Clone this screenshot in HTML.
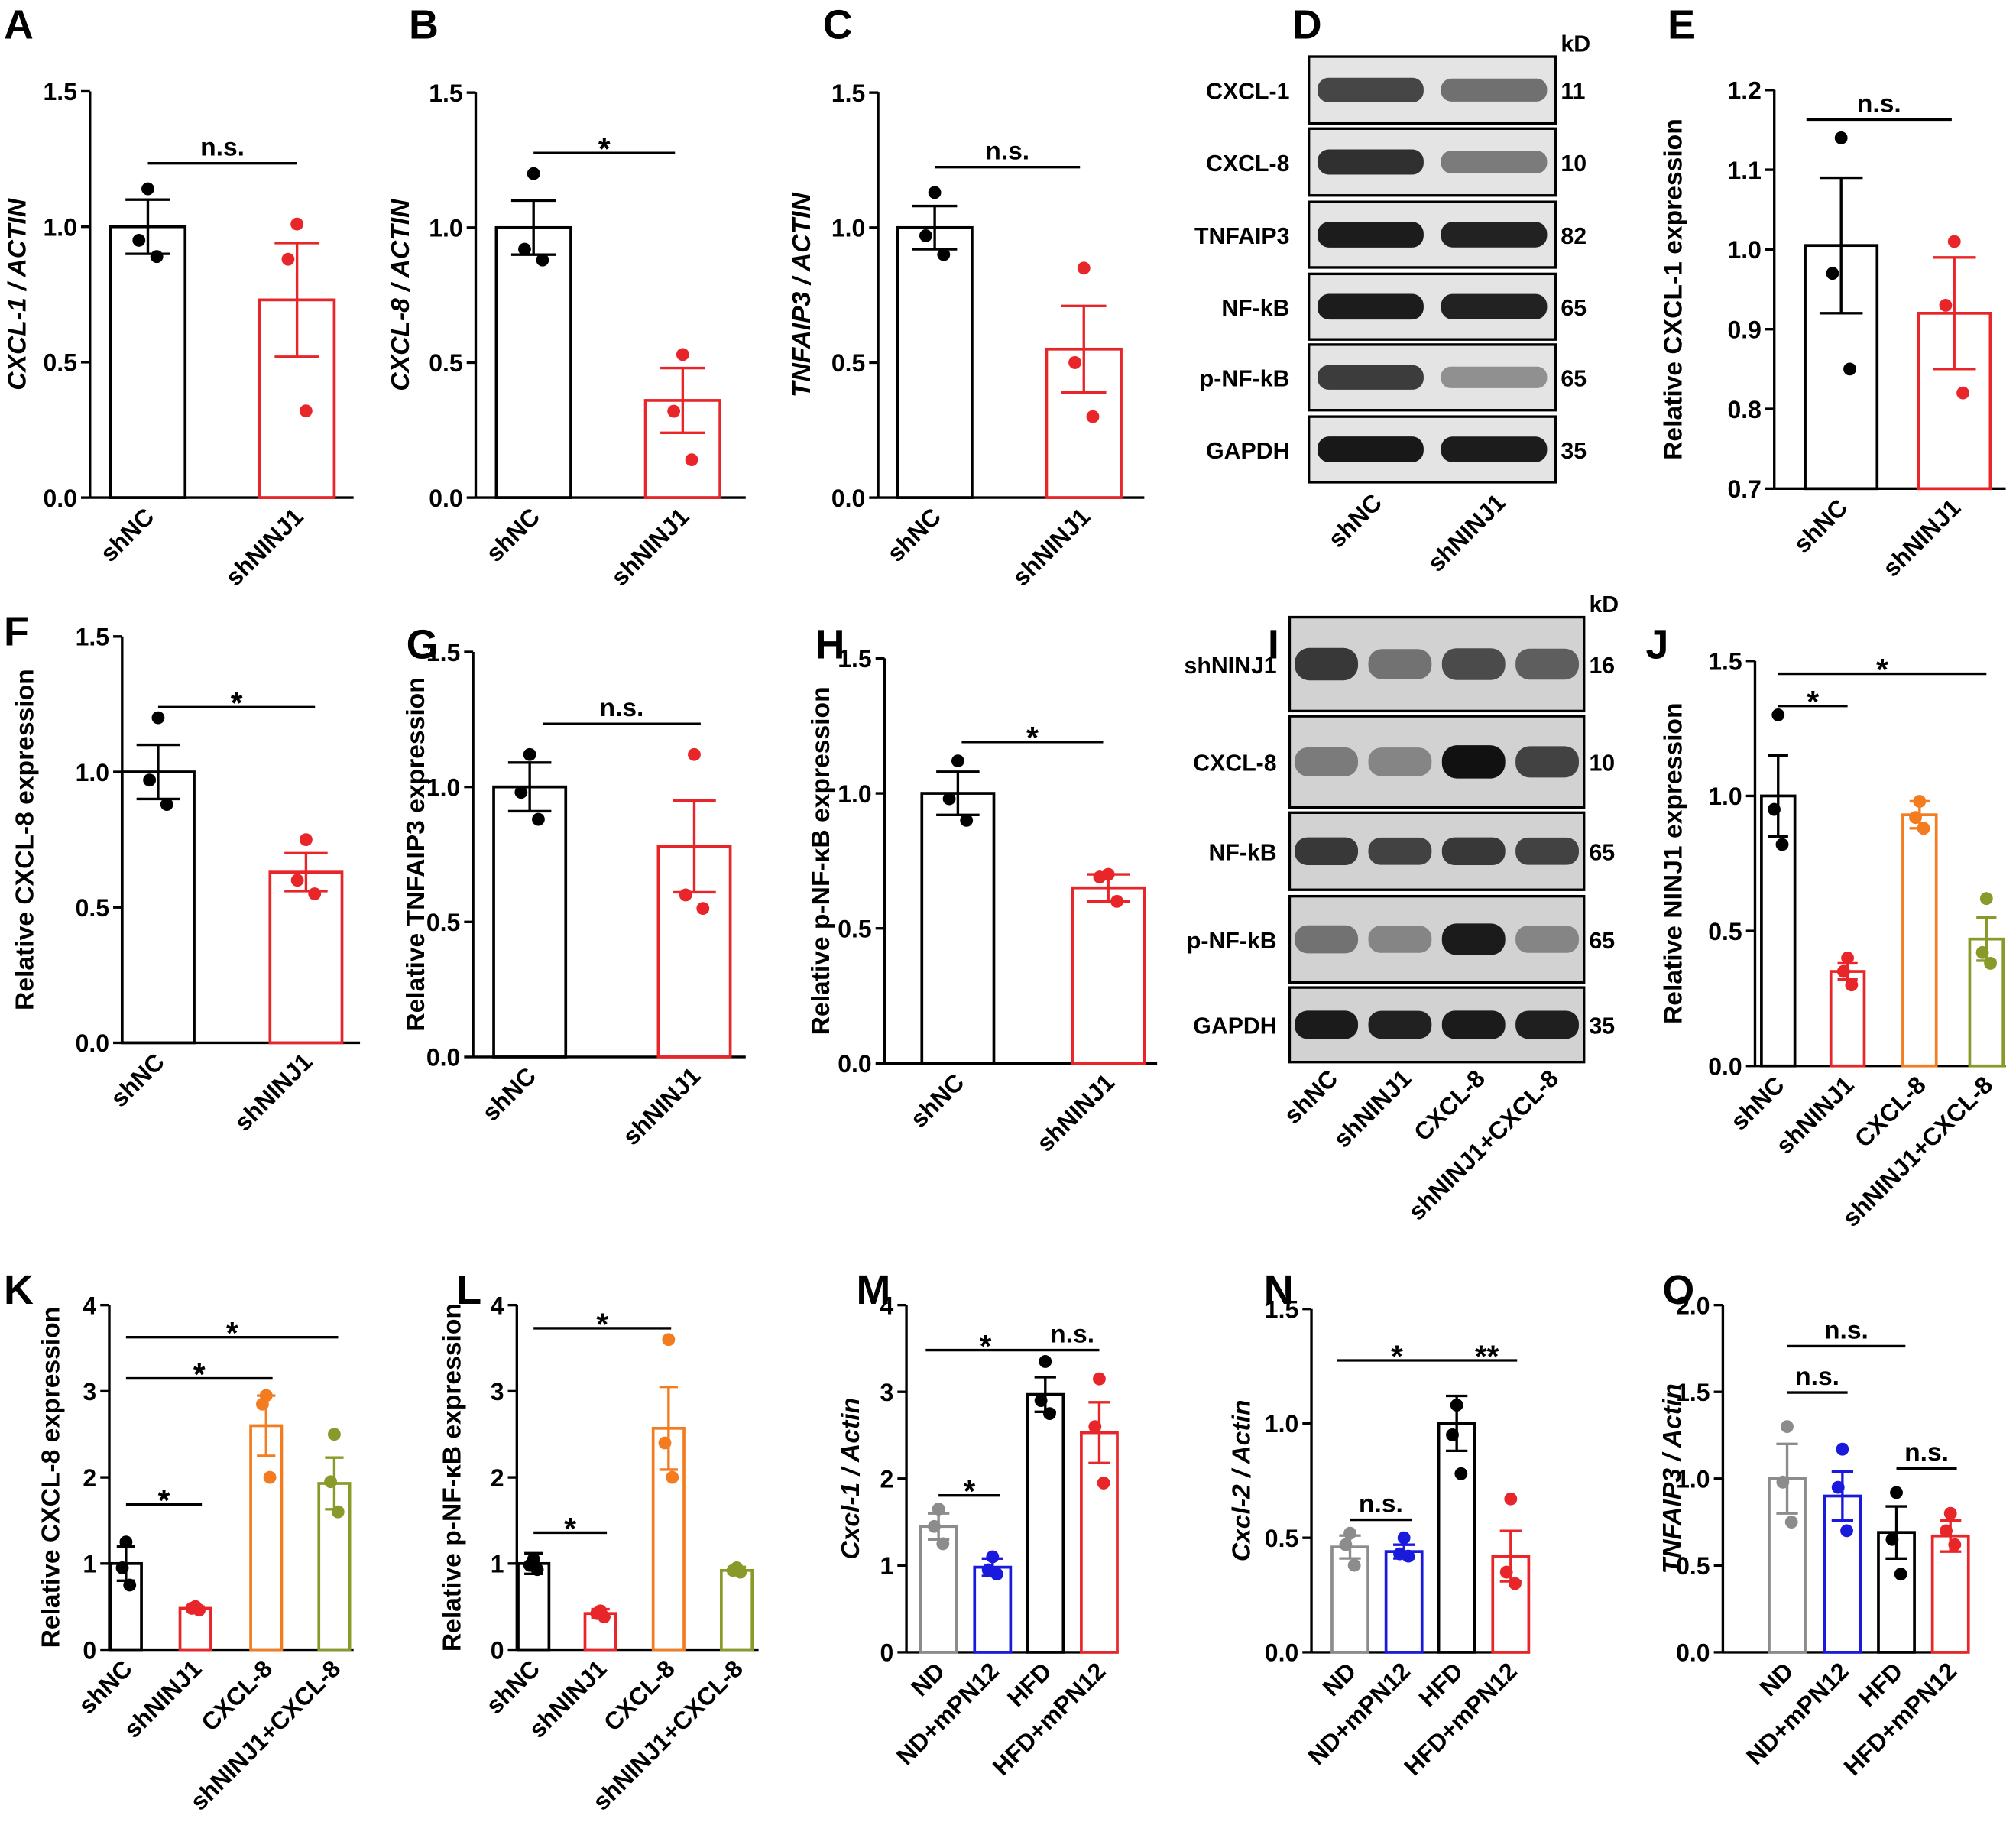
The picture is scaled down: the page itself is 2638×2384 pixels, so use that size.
<!DOCTYPE html>
<html><head><meta charset="utf-8"><style>
html,body{margin:0;padding:0;background:#fff}
svg{display:block}
text{font-family:"Liberation Sans",Arial,sans-serif;font-weight:bold}
</style></head><body>
<svg id="fig" width="2638" height="2384" viewBox="0 0 1568 1417" xmlns="http://www.w3.org/2000/svg"></svg>
<script>
// ---- data ----
const A_cats=["shNC","shNINJ1"], A_vals=[1.0,0.73], A_errs=[0.1,0.21], A_pts=[[1.14,0.95,0.89],[1.01,0.88,0.32]];
const B_cats=["shNC","shNINJ1"], B_vals=[1.0,0.36], B_errs=[0.1,0.12], B_pts=[[1.2,0.92,0.88],[0.53,0.32,0.14]];
const C_cats=["shNC","shNINJ1"], C_vals=[1.0,0.55], C_errs=[0.08,0.16], C_pts=[[1.13,0.97,0.9],[0.85,0.5,0.3]];
const E_cats=["shNC","shNINJ1"], E_vals=[1.005,0.92], E_errs=[0.085,0.07], E_pts=[[1.14,0.97,0.85],[1.01,0.93,0.82]];
const F_cats=["shNC","shNINJ1"], F_vals=[1.0,0.63], F_errs=[0.1,0.07], F_pts=[[1.2,0.97,0.88],[0.75,0.6,0.55]];
const G_cats=["shNC","shNINJ1"], G_vals=[1.0,0.78], G_errs=[0.09,0.17], G_pts=[[1.12,0.98,0.88],[1.12,0.6,0.55]];
const H_cats=["shNC","shNINJ1"], H_vals=[1.0,0.65], H_errs=[0.08,0.05], H_pts=[[1.12,0.98,0.9],[0.7,0.69,0.6]];
const J_cats=["shNC","shNINJ1","CXCL-8","shNINJ1+CXCL-8"], J_vals=[1.0,0.35,0.93,0.47], J_errs=[0.15,0.03,0.05,0.08], J_pts=[[1.3,0.95,0.82],[0.4,0.35,0.3],[0.98,0.92,0.88],[0.62,0.42,0.38]];
const K_cats=J_cats, K_vals=[1.0,0.48,2.6,1.93], K_errs=[0.2,0.02,0.35,0.3], K_pts=[[1.25,0.95,0.75],[0.5,0.48,0.46],[2.95,2.85,2.0],[2.5,1.95,1.6]];
const L_cats=J_cats, L_vals=[1.0,0.42,2.57,0.92], L_errs=[0.12,0.05,0.48,0.04], L_pts=[[1.05,0.98,0.93],[0.45,0.42,0.38],[3.6,2.4,2.0],[0.95,0.92,0.9]];
const M_cats=["ND","ND+mPN12","HFD","HFD+mPN12"], M_vals=[1.45,0.98,2.97,2.53], M_errs=[0.15,0.1,0.2,0.35], M_pts=[[1.65,1.45,1.25],[1.1,0.95,0.9],[3.35,2.9,2.75],[3.15,2.6,1.95]];
const N_cats=M_cats, N_vals=[0.46,0.44,1.0,0.42], N_errs=[0.05,0.03,0.12,0.11], N_pts=[[0.52,0.47,0.38],[0.5,0.43,0.42],[1.08,0.95,0.78],[0.67,0.35,0.3]];
const O_cats=M_cats, O_vals=[1.0,0.9,0.69,0.67], O_errs=[0.2,0.14,0.15,0.09], O_pts=[[1.3,0.98,0.75],[1.17,0.95,0.7],[0.92,0.65,0.45],[0.8,0.7,0.62]];
const tick15=["0.0","0.5","1.0","1.5"], tick4=["0","1","2","3","4"], tickE=["0.7","0.8","0.9","1.0","1.1","1.2"], tick2=["0.0","0.5","1.0","1.5","2.0"];

const svg=document.getElementById('fig');
const NS="http://www.w3.org/2000/svg";
function el(tag,attrs,parent){const e=document.createElementNS(NS,tag);for(const k in attrs)e.setAttribute(k,attrs[k]);(parent||svg).appendChild(e);return e;}
function txt(s,attrs,parent){const t=el('text',attrs,parent);t.textContent=s;return t;}
const BK="#000",RD="#e8262a",OR="#f47c20",OL="#8a9a2a",GY="#8c8c8c",BL="#1a1adc";

function panel(p){
  const g=el('g',{});
  
  
  const lab=txt(p.id,{x:p.lx,y:p.ly,'font-size':32},g);
  
  
  const ys=v=>p.y0-(v-p.min)/(p.max-p.min)*(p.y0-p.ytop);
  const ax=el('line',{x1:p.ax,y1:ys(p.max),x2:p.ax,y2:p.y0,stroke:'#000','stroke-width':2},g);
  
  
  const xa=el('line',{x1:p.ax,y1:p.y0,x2:p.xend,y2:p.y0,stroke:'#000','stroke-width':2},g);
  
  
  p.ticks.forEach(t=>{
    const v=parseFloat(t),y=ys(v);
    el('line',{x1:p.ax-7,y1:y,x2:p.ax,y2:y,stroke:'#000','stroke-width':2},g);
    const tt=txt(t,{x:p.ax-10,y:y+7,'font-size':19,'text-anchor':'end'},g);
    
    
  });
  const yt=txt(p.title,{x:0,y:0,'font-size':20,'text-anchor':'middle','font-style':p.italic?'italic':'normal',transform:`translate(${p.tx},${(p.y0+p.ytop)/2}) rotate(-90)`},g);
  
  
  p.cats.forEach((c,i)=>{
    const cx=p.cx[i],v=p.vals[i],e=p.errs[i],col=p.cols[i],w=p.bw;
    const b=el('rect',{x:cx-w/2,y:ys(v),width:w,height:p.y0-ys(v),fill:'none',stroke:col,'stroke-width':2.2},g);
    
    
    el('line',{x1:cx,y1:ys(v+e),x2:cx,y2:ys(v-e),stroke:col,'stroke-width':2},g);
    el('line',{x1:cx-w*0.3,y1:ys(v+e),x2:cx+w*0.3,y2:ys(v+e),stroke:col,'stroke-width':2},g);
    el('line',{x1:cx-w*0.3,y1:ys(v-e),x2:cx+w*0.3,y2:ys(v-e),stroke:col,'stroke-width':2},g);
    const offs=[0,-w*0.12,w*0.12];
    p.pts[i].forEach((pv,j)=>{
      const d=el('circle',{cx:cx+offs[j],cy:ys(pv),r:5,fill:col},g);
      
      
    });
    const lt=txt(c,{x:0,y:0,'font-size':19,'text-anchor':'end',transform:`translate(${cx+6},${p.y0+16}) rotate(-45)`},g);
    
    
  });
  (p.sig||[]).forEach(s=>{
    el('line',{x1:s[0],y1:s[2],x2:s[1],y2:s[2],stroke:'#000','stroke-width':2},g);
    const isStar=!s[3].includes('n');
    const st=txt(s[3],{x:(s[0]+s[1])/2,y:s[2]-(isStar?-5:6),'font-size':isStar?24:20,'text-anchor':'middle'},g);
    
    
  });
}
const two=[BK,RD], four=[BK,RD,OR,OL], mcol=[GY,BL,BK,RD];
panel({id:'A',lx:3,ly:30,ax:70,xend:275,y0:387,ytop:71,min:0,max:1.5,ticks:tick15,title:'CXCL-1 / ACTIN',italic:1,tx:20,cats:A_cats,vals:A_vals,errs:A_errs,pts:A_pts,cx:[115,231],bw:58,cols:two,sig:[[115,231,127,'n.s.']]});
panel({id:'B',lx:318,ly:30,ax:370,xend:580,y0:387,ytop:72,min:0,max:1.5,ticks:tick15,title:'CXCL-8  / ACTIN',italic:1,tx:318,cats:B_cats,vals:B_vals,errs:B_errs,pts:B_pts,cx:[415,531],bw:58,cols:two,sig:[[415,525,119,'*']]});
panel({id:'C',lx:640,ly:30,ax:683,xend:890,y0:387,ytop:72,min:0,max:1.5,ticks:tick15,title:'TNFAIP3 / ACTIN',italic:1,tx:630,cats:C_cats,vals:C_vals,errs:C_errs,pts:C_pts,cx:[727,843],bw:58,cols:two,sig:[[727,840,130,'n.s.']]});
panel({id:'E',lx:1297,ly:30,ax:1380,xend:1560,y0:380,ytop:70,min:0.7,max:1.2,ticks:tickE,title:'Relative CXCL-1 expression',italic:0,tx:1308,cats:E_cats,vals:E_vals,errs:E_errs,pts:E_pts,cx:[1432,1520],bw:56,cols:two,sig:[[1405,1518,93,'n.s.']]});
panel({id:'F',lx:3,ly:502,ax:95,xend:280,y0:811,ytop:495,min:0,max:1.5,ticks:tick15,title:'Relative CXCL-8 expression',italic:0,tx:26,cats:F_cats,vals:F_vals,errs:F_errs,pts:F_pts,cx:[123,238],bw:56,cols:two,sig:[[123,245,550,'*']]});
panel({id:'G',lx:316,ly:512,ax:368,xend:580,y0:822,ytop:507,min:0,max:1.5,ticks:tick15,title:'Relative TNFAIP3 expression',italic:0,tx:330,cats:G_cats,vals:G_vals,errs:G_errs,pts:G_pts,cx:[412,540],bw:56,cols:two,sig:[[422,545,563,'n.s.']]});
panel({id:'H',lx:634,ly:512,ax:688,xend:900,y0:827,ytop:512,min:0,max:1.5,ticks:tick15,title:'Relative p-NF-κB  expression',italic:0,tx:645,cats:H_cats,vals:H_vals,errs:H_errs,pts:H_pts,cx:[745,862],bw:56,cols:two,sig:[[748,858,577,'*']]});
panel({id:'J',lx:1280,ly:512,ax:1365,xend:1560,y0:829,ytop:514,min:0,max:1.5,ticks:tick15,title:'Relative NINJ1 expression',italic:0,tx:1308,cats:J_cats,vals:J_vals,errs:J_errs,pts:J_pts,cx:[1383,1437,1493,1545],bw:26,cols:four,sig:[[1383,1437,549,'*'],[1383,1545,524,'*']]});
panel({id:'K',lx:3,ly:1014,ax:85,xend:275,y0:1283,ytop:1015,min:0,max:4,ticks:tick4,title:'Relative CXCL-8 expression',italic:0,tx:46,cats:K_cats,vals:K_vals,errs:K_errs,pts:K_pts,cx:[98,152,207,260],bw:24,cols:four,sig:[[98,157,1170,'*'],[98,212,1072,'*'],[98,263,1040,'*']]});
panel({id:'L',lx:355,ly:1014,ax:402,xend:590,y0:1283,ytop:1015,min:0,max:4,ticks:tick4,title:'Relative p-NF-κB  expression',italic:0,tx:358,cats:L_cats,vals:L_vals,errs:L_errs,pts:L_pts,cx:[415,467,520,573],bw:24,cols:four,sig:[[415,472,1192,'*'],[415,522,1033,'*']]});
panel({id:'M',lx:666,ly:1014,ax:705,xend:870,y0:1285,ytop:1015,min:0,max:4,ticks:tick4,title:'Cxcl-1 / Actin',italic:1,tx:668,cats:M_cats,vals:M_vals,errs:M_errs,pts:M_pts,cx:[730,772,813,855],bw:28,cols:mcol,sig:[[730,778,1163,'*'],[720,813,1050,'*'],[813,855,1050,'n.s.']]});
panel({id:'N',lx:983,ly:1014,ax:1020,xend:1190,y0:1285,ytop:1018,min:0,max:1.5,ticks:tick15,title:'Cxcl-2 / Actin',italic:1,tx:972,cats:N_cats,vals:N_vals,errs:N_errs,pts:N_pts,cx:[1050,1092,1133,1175],bw:28,cols:mcol,sig:[[1050,1098,1182,'n.s.'],[1040,1133,1058,'*'],[1133,1180,1058,'**']]});
panel({id:'O',lx:1293,ly:1014,ax:1340,xend:1530,y0:1285,ytop:1015,min:0,max:2,ticks:tick2,title:'TNFAIP3 / Actin',italic:1,tx:1307,cats:O_cats,vals:O_vals,errs:O_errs,pts:O_pts,cx:[1390,1433,1475,1517],bw:28,cols:mcol,sig:[[1390,1437,1083,'n.s.'],[1390,1482,1047,'n.s.'],[1475,1522,1142,'n.s.']]});

// ---- western blots ----
const D_rows=["CXCL-1","CXCL-8","TNFAIP3","NF-kB","p-NF-kB","GAPDH"], D_kd=["11","10","82","65","65","35"];
const D_int=[[0.75,0.55],[0.85,0.5],[0.95,0.92],[0.95,0.92],[0.8,0.4],[0.97,0.95]];
const I_rows=["shNINJ1","CXCL-8","NF-kB","p-NF-kB","GAPDH"], I_kd=["16","10","65","65","35"];
const I_int=[[0.8,0.5,0.7,0.6],[0.45,0.4,1.0,0.75],[0.8,0.75,0.8,0.75],[0.5,0.4,0.95,0.4],[0.95,0.92,0.95,0.93]];
function blot(id,lx,ly,x0,x1,rows,kd,ints,bands,rowY,rowH,bg,catY,cats,labX){
  const g=el('g',{});
  
  
  const lab=txt(id,{x:lx,y:ly,'font-size':32},g);
  
  
  txt('kD',{x:x1+4,y:rowY[0]-4,'font-size':18},g);
  rows.forEach((r,i)=>{
    const y=rowY[i];
    el('rect',{x:x0,y:y,width:x1-x0,height:rowH[i],fill:bg,stroke:'#000','stroke-width':2},g);
    ints[i].forEach((a,j)=>{
      const bw=(x1-x0)/bands*0.86;
      const bh=rowH[i]*0.28+a*6;
      const cx=x0+(x1-x0)*(j+0.5)/bands;
      const e=el('rect',{x:cx-bw/2,y:y+rowH[i]/2-bh/2,width:bw,height:bh,rx:bh/2.2,fill:'#111','fill-opacity':a},g);
      
      
    });
    const rt=txt(r,{x:labX,y:y+rowH[i]/2+7,'font-size':18,'text-anchor':'end'},g);
    
    
    txt(kd[i],{x:x1+4,y:y+rowH[i]/2+7,'font-size':18},g);
  });
  cats.forEach((c,j)=>{
    const cx=x0+(x1-x0)*(j+0.5)/bands;
    const lt=txt(c,{x:0,y:0,'font-size':19,'text-anchor':'end',transform:`translate(${cx+10},${catY}) rotate(-45)`},g);
    
    
  });
}
blot('D',1005,30,1018,1210,D_rows,D_kd,D_int,2,[44,100,157,213,268,324],[52,52,51,51,51,51],'#e4e4e4',392,["shNC","shNINJ1"],1003);
blot('I',986,512,1003,1232,I_rows,I_kd,I_int,4,[480,557,632,697,768],[73,71,60,67,58],'#d2d2d2',840,["shNC","shNINJ1","CXCL-8","shNINJ1+CXCL-8"],993);
</script>
</body></html>
